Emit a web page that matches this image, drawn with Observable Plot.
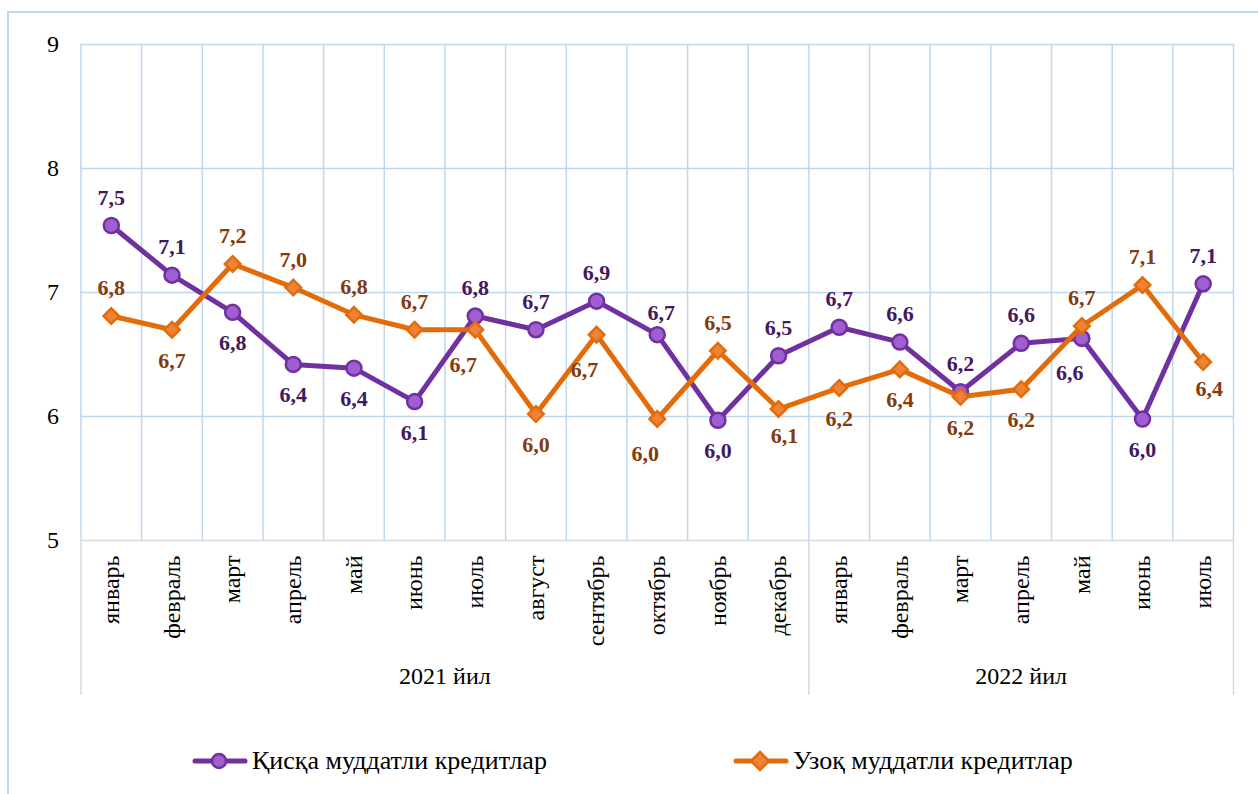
<!DOCTYPE html>
<html>
<head>
<meta charset="utf-8">
<script src="https://cdn.jsdelivr.net/npm/d3@7"></script>
<script src="https://cdn.jsdelivr.net/npm/@observablehq/plot@0.6"></script>
<style>
  html, body { margin: 0; padding: 0; background: #fff; font-family: "Liberation Serif", serif; }
  #wrap { position: relative; width: 1258px; height: 794px; overflow: hidden; }
  #frame { position: absolute; left: 7px; top: 11px; width: 1400px; height: 1000px; border: 2px solid #bdd7ee; box-sizing: border-box; }
  #chart { position: absolute; left: 0; top: 0; }
  .legend { position: absolute; top: 745px; display: flex; align-items: center; font-size: 26px; color: #000; white-space: nowrap; }
  .legend svg { display: block; margin-right: 4px; }
</style>
</head>
<body>
<div id="wrap">
  <div id="frame"></div>
  <div id="chart"></div>
  <div class="legend" id="leg0" style="left:192px"></div>
  <div class="legend" id="leg1" style="left:733px"></div>
</div>
<script>
// ---- data ----
const months = ["январь","февраль","март","апрель","май","июнь","июль","август","сентябрь","октябрь","ноябрь","декабрь",
                "январь","февраль","март","апрель","май","июнь","июль"];
const yearLabels = ["2021 йил", "2022 йил"];
const monthsPerYear = [12, 7];
const seriesNames = ["Қисқа муддатли кредитлар", "Узоқ муддатли кредитлар"];
const shortTerm = [7.54, 7.14, 6.84, 6.42, 6.39, 6.12, 6.81, 6.70, 6.93, 6.66, 5.97, 6.49,
                   6.72, 6.60, 6.20, 6.59, 6.63, 5.98, 7.07];
const longTerm  = [6.81, 6.70, 7.23, 7.04, 6.82, 6.70, 6.70, 6.02, 6.66, 5.98, 6.53, 6.06,
                   6.23, 6.38, 6.16, 6.22, 6.73, 7.06, 6.44];
const shortLabelPlace = ["above","above","below","below","below","below","above","above","above","above-right","below","above",
                         "above","above","above","above","below-left","below","above"];
const longLabelPlace  = ["above","below","above","above","above","above","below-left","below","below-left","below-left","above","below-right",
                         "below","below","below","below","above","above","below-right"];
const yTicks = [5, 6, 7, 8, 9];

// ---- styling ----
const colors = {
  short: {line: "#7030a0", fill: "#a05fd0", label: "#44195f"},
  long:  {line: "#e36c0a", fill: "#ee8236", label: "#843c0c"}
};
const placeOffset = {
  "above": [0, -28], "below": [0, 31],
  "below-left": [-12, 35], "below-right": [6, 27], "above-right": [4, -22]
};
const serif = "'Liberation Serif', serif";

const idx = months.map((_, i) => i);
const bounds = d3.range(-0.5, months.length, 1);
let start = 0;
const years = yearLabels.map((label, k) => {
  const mid = start + (monthsPerYear[k] - 1) / 2;
  start += monthsPerYear[k];
  return {label, mid};
});
const groupBounds = [-0.5];
{ let s = -0.5; monthsPerYear.forEach(n => { s += n; groupBounds.push(s); }); }

const fmt = v => v.toFixed(1).replace(".", ",");
const shortData = shortTerm.map((v, i) => ({i, v, place: shortLabelPlace[i]}));
const longData = longTerm.map((v, i) => ({i, v, place: longLabelPlace[i]}));

function labelMarks(data, color) {
  const groups = d3.groups(data, d => d.place);
  return groups.map(([place, rows]) => Plot.text(rows, {
    x: "i", y: "v", text: d => fmt(d.v),
    dx: placeOffset[place][0], dy: placeOffset[place][1],
    fill: color, fontWeight: "bold", fontSize: 22
  }));
}

const chart = Plot.plot({
  width: 1258,
  height: 794,
  marginLeft: 80.5,
  marginRight: 25,
  marginTop: 44,
  marginBottom: 254,
  style: {fontFamily: serif, fontSize: "24px", color: "#000", background: "transparent", overflow: "visible"},
  x: {type: "linear", domain: [-0.5, months.length - 0.5], label: null},
  y: {domain: [yTicks[0], yTicks[yTicks.length - 1]], label: null},
  marks: [
    Plot.ruleY(yTicks.slice(1), {stroke: "#bdd7ee", strokeWidth: 1.5}),
    Plot.ruleX(bounds, {stroke: "#bdd7ee", strokeWidth: 1.5}),
    Plot.ruleY([yTicks[0]], {stroke: "#d9d9d9", strokeWidth: 1.5}),
    Plot.axisX(groupBounds, {tickSize: 155, tickFormat: () => "", stroke: "#d9d9d9", strokeWidth: 1.5, strokeOpacity: 1, label: null}),
    Plot.axisY(yTicks, {tickSize: 0, tickPadding: 22, fontSize: 24, tickFormat: d => String(d), label: null}),
    Plot.axisX(idx, {tickSize: 0, tickPadding: 15, tickRotate: -90, fontSize: 24, tickFormat: i => months[i], label: null}),
    Plot.text(years, {x: "mid", text: "label", frameAnchor: "bottom", dy: 143, fontSize: 24, fill: "#000"}),
    Plot.line(shortData, {x: "i", y: "v", stroke: colors.short.line, strokeWidth: 5, strokeLinejoin: "round"}),
    Plot.dot(shortData, {x: "i", y: "v", r: 7.5, symbol: "circle", fill: colors.short.fill, stroke: colors.short.line, strokeWidth: 2.5}),
    Plot.line(longData, {x: "i", y: "v", stroke: colors.long.line, strokeWidth: 5, strokeLinejoin: "round"}),
    Plot.dot(longData, {x: "i", y: "v", r: 7, symbol: "diamond2", fill: colors.long.fill, stroke: colors.long.line, strokeWidth: 2.5}),
    ...labelMarks(shortData, colors.short.label),
    ...labelMarks(longData, colors.long.label)
  ]
});
document.getElementById("chart").appendChild(chart);

// ---- legend ----
function legendItem(id, name, c, symbol) {
  const div = document.getElementById(id);
  const sym = symbol === "circle"
    ? `<circle cx="27" cy="16" r="7" fill="${c.fill}" stroke="${c.line}" stroke-width="2.5"/>`
    : `<path d="M27 7 L36 16 L27 25 L18 16 Z" fill="${c.fill}" stroke="${c.line}" stroke-width="2.5"/>`;
  div.innerHTML = `<svg width="56" height="32"><line x1="3" y1="16" x2="53" y2="16" stroke="${c.line}" stroke-width="5" stroke-linecap="round"/>${sym}</svg>`;
  const span = document.createElement("span");
  span.textContent = name;
  div.appendChild(span);
}
legendItem("leg0", seriesNames[0], colors.short, "circle");
legendItem("leg1", seriesNames[1], colors.long, "diamond");
</script>
</body>
</html>
